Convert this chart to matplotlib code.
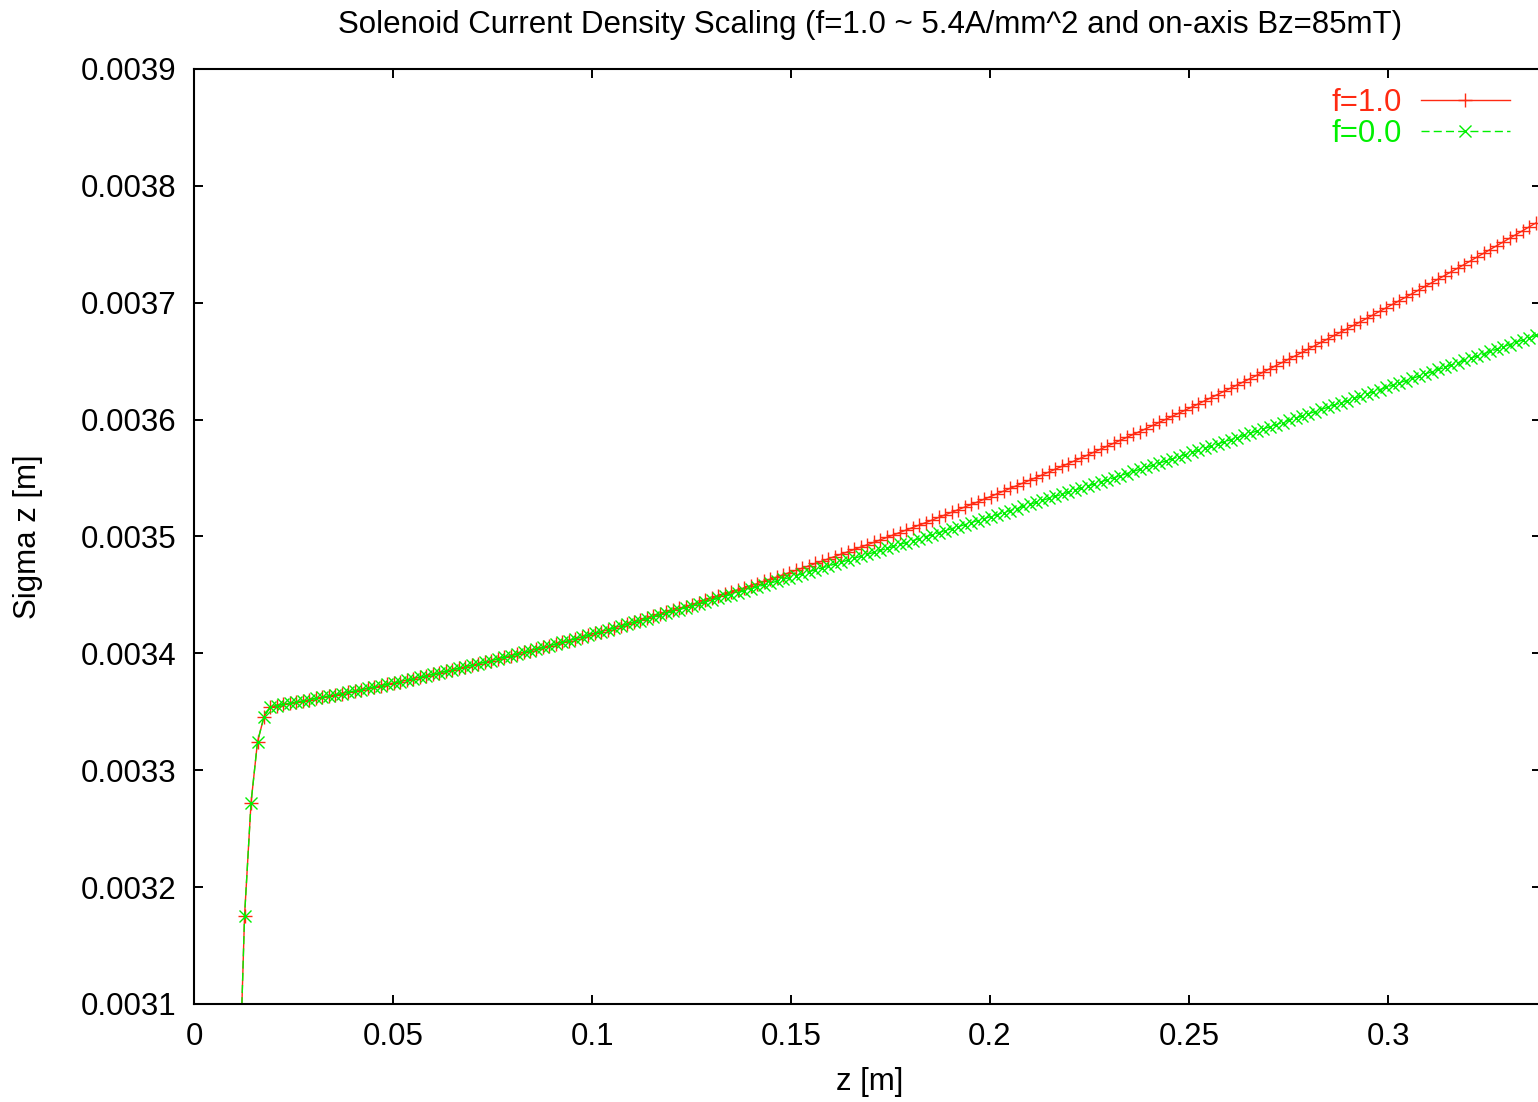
import numpy as np
import matplotlib
matplotlib.use("Agg")
import matplotlib.pyplot as plt
from matplotlib.ticker import MultipleLocator, FormatStrFormatter

# sampling of the tracking output along z [m]
z_start = 0.01107
z_step = 0.00163

# sigma z in micrometres
# knee + plateau, both runs are on top of each other here
sigma_common_um = [
    2990.0, 3175.3, 3272.2, 3324.4, 3345.8,
    3354.4, 3355.4, 3356.3, 3357.3, 3358.3, 3359.3, 3360.4, 3361.4, 3362.4, 3363.5,
    3364.6, 3365.6, 3366.7, 3367.8, 3369.0, 3370.1, 3371.2, 3372.4, 3373.5, 3374.7,
    3375.9, 3377.1, 3378.3, 3379.6, 3380.8, 3382.0, 3383.3, 3384.6, 3385.9, 3387.2,
    3388.5, 3389.8, 3391.1, 3392.5, 3393.8, 3395.2, 3396.6, 3398.0, 3399.4, 3400.8,
    3402.2, 3403.6, 3405.1, 3406.6, 3408.0, 3409.5, 3411.0, 3412.5, 3414.1, 3415.6,
]

sigma_f10_tail_um = [
    3417.1, 3418.7, 3420.3, 3421.9, 3423.5, 3425.1, 3426.7, 3428.3, 3430.0, 3431.6,
    3433.3, 3435.0, 3436.7, 3438.4, 3440.1, 3441.8, 3443.5, 3445.3, 3447.1, 3448.8,
    3450.6, 3452.4, 3454.2, 3456.0, 3457.9, 3459.7, 3461.6, 3463.5, 3465.3, 3467.2,
    3469.1, 3471.1, 3473.0, 3474.9, 3476.9, 3478.9, 3480.8, 3482.8, 3484.8, 3486.8,
    3488.9, 3490.9, 3493.0, 3495.0, 3497.1, 3499.2, 3501.3, 3503.4, 3505.5, 3507.6,
    3509.8, 3511.9, 3514.1, 3516.3, 3518.5, 3520.7, 3522.9, 3525.1, 3527.4, 3529.6,
    3531.9, 3534.2, 3536.5, 3538.8, 3541.1, 3543.4, 3545.7, 3548.1, 3550.4, 3552.8,
    3555.2, 3557.6, 3560.0, 3562.4, 3564.9, 3567.3, 3569.8, 3572.2, 3574.7, 3577.2,
    3579.7, 3582.2, 3584.8, 3587.3, 3589.8, 3592.4, 3595.0, 3597.6, 3600.2, 3602.8,
    3605.4, 3608.0, 3610.7, 3613.4, 3616.0, 3618.7, 3621.4, 3624.1, 3626.8, 3629.6,
    3632.3, 3635.1, 3637.8, 3640.6, 3643.4, 3646.2, 3649.0, 3651.8, 3654.7, 3657.5,
    3660.4, 3663.3, 3666.2, 3669.1, 3672.0, 3674.9, 3677.8, 3680.8, 3683.7, 3686.7,
    3689.7, 3692.7, 3695.7, 3698.7, 3701.7, 3704.8, 3707.8, 3710.9, 3714.0, 3717.1,
    3720.2, 3723.3, 3726.4, 3729.5, 3732.7, 3735.9, 3739.0, 3742.2, 3745.4, 3748.6,
    3751.9, 3755.1, 3758.3, 3761.6, 3764.9, 3768.1,
]

sigma_f00_tail_um = [
    3417.1, 3418.7, 3420.3, 3421.8, 3423.4, 3425.0, 3426.5, 3428.1, 3429.6, 3431.2,
    3432.8, 3434.4, 3435.9, 3437.5, 3439.1, 3440.7, 3442.3, 3443.9, 3445.5, 3447.1,
    3448.7, 3450.3, 3451.9, 3453.5, 3455.2, 3456.8, 3458.4, 3460.0, 3461.7, 3463.3,
    3464.9, 3466.6, 3468.2, 3469.9, 3471.5, 3473.1, 3474.8, 3476.5, 3478.1, 3479.8,
    3481.4, 3483.1, 3484.8, 3486.4, 3488.1, 3489.8, 3491.5, 3493.2, 3494.8, 3496.5,
    3498.2, 3499.9, 3501.6, 3503.3, 3505.0, 3506.7, 3508.4, 3510.1, 3511.9, 3513.6,
    3515.3, 3517.0, 3518.7, 3520.5, 3522.2, 3523.9, 3525.7, 3527.4, 3529.2, 3530.9,
    3532.7, 3534.4, 3536.2, 3537.9, 3539.7, 3541.5, 3543.2, 3545.0, 3546.8, 3548.5,
    3550.3, 3552.1, 3553.9, 3555.7, 3557.5, 3559.2, 3561.0, 3562.8, 3564.6, 3566.4,
    3568.3, 3570.1, 3571.9, 3573.7, 3575.5, 3577.3, 3579.2, 3581.0, 3582.8, 3584.6,
    3586.5, 3588.3, 3590.2, 3592.0, 3593.8, 3595.7, 3597.5, 3599.4, 3601.3, 3603.1,
    3605.0, 3606.9, 3608.7, 3610.6, 3612.5, 3614.4, 3616.2, 3618.1, 3620.0, 3621.9,
    3623.8, 3625.7, 3627.6, 3629.5, 3631.4, 3633.3, 3635.2, 3637.1, 3639.0, 3641.0,
    3642.9, 3644.8, 3646.7, 3648.7, 3650.6, 3652.5, 3654.5, 3656.4, 3658.3, 3660.3,
    3662.2, 3664.2, 3666.2, 3668.1, 3670.1, 3672.0,
]

labels = ["f=1.0", "f=0.0"]
colors = ["#ff2a12", "#00f000"]

sigma_f10 = np.array(sigma_common_um + sigma_f10_tail_um) * 1e-6
sigma_f00 = np.array(sigma_common_um + sigma_f00_tail_um) * 1e-6
z = z_start + z_step * np.arange(len(sigma_f10))

plt.rcParams["font.family"] = ["Liberation Sans", "DejaVu Sans"]
plt.rcParams["lines.scale_dashes"] = False

W, H = 1538, 1102
fs = 22.5
fig = plt.figure(figsize=(W / 100, H / 100), dpi=100)
ax = fig.add_axes([194 / W, 1 - 1004 / H, 1347 / W, 935 / H])

ax.plot(z, sigma_f10, color=colors[0], lw=1.0, marker="+", ms=10.5, mew=1.0,
        label=labels[0])
ax.plot(z, sigma_f00, color=colors[1], lw=1.0, ls=(0, (5.8, 3.0)), marker="x",
        ms=8.5, mew=1.0, label=labels[1])

ax.set_xlim(0, 1347 / 3980)
ax.set_ylim(0.0031, 0.0039)
ax.xaxis.set_major_locator(MultipleLocator(0.05))
ax.yaxis.set_major_locator(MultipleLocator(0.0001))
ax.xaxis.set_major_formatter(FormatStrFormatter("%g"))
ax.yaxis.set_major_formatter(FormatStrFormatter("%g"))
ax.tick_params(direction="in", length=6.5, width=1.4, top=True, right=True,
               labelsize=fs, colors="black")
ax.tick_params(axis="y", pad=12.5)
ax.tick_params(axis="x", pad=13)
for s in ax.spines.values():
    s.set_linewidth(1.5)

ax.legend(loc="upper right", bbox_to_anchor=(1 - 31 / 1347, 0.980),
          frameon=False, markerfirst=False, labelcolor="linecolor",
          fontsize=fs, handlelength=2.85, handletextpad=0.62,
          borderpad=0, borderaxespad=0, labelspacing=0.05)

fig.text(870 / W, 1 - 25 / H,
         "Solenoid Current Density Scaling (f=1.0 ~ 5.4A/mm^2 and on-axis Bz=85mT)",
         ha="center", va="center", fontsize=fs)
fig.text(870 / W, 1 - 1082 / H, "z [m]", ha="center", va="center", fontsize=fs)
fig.text(28 / W, 1 - 537 / H, "Sigma z [m]", ha="center", va="center",
         rotation=90, fontsize=fs)

fig.savefig("out.png", dpi=100)
